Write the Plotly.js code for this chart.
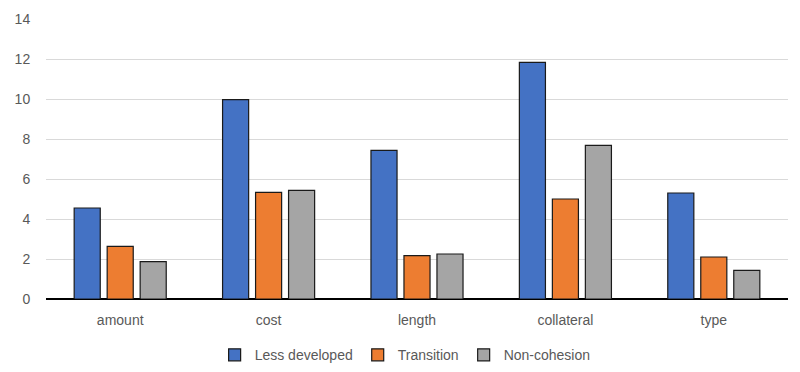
<!DOCTYPE html>
<html>
<head>
<meta charset="utf-8">
<script src="https://cdn.plot.ly/plotly-3.0.1.min.js"></script>
<style>html,body{margin:0;padding:0;background:#fff;}#chart{width:800px;height:372px;}</style>
</head>
<body>
<div id="chart"></div>
<script>
const categories = ["amount", "cost", "length", "collateral", "type"];
const seriesNames = ["Less developed", "Transition", "Non-cohesion"];
const lessDeveloped = [4.55, 9.97, 7.43, 11.83, 5.3];
const transition = [2.63, 5.33, 2.17, 5.0, 2.1];
const nonCohesion = [1.87, 5.43, 2.25, 7.68, 1.43];
const colors = ["#4472C4", "#ED7D31", "#A5A5A5"];
const yTicks = [0, 2, 4, 6, 8, 10, 12, 14];

const values = [lessDeveloped, transition, nonCohesion];
const traces = values.map((v, i) => ({
  type: "bar",
  name: seriesNames[i],
  x: categories,
  y: v,
  marker: {color: colors[i], line: {color: "#1a1a1a", width: 1.2}},
  hoverinfo: "x+y+name"
}));

const layout = {
  width: 800, height: 372,
  margin: {l: 46, r: 12, t: 19, b: 73, autoexpand: false},
  paper_bgcolor: "#fff", plot_bgcolor: "#fff",
  font: {family: "Liberation Sans, Arial, sans-serif", size: 14, color: "#595959"},
  barmode: "group",
  bargap: 0.333,
  bargroupgap: 0.21,
  xaxis: {
    showgrid: false, zeroline: false, showline: false,
    ticks: "outside", ticklen: 8, tickcolor: "rgba(0,0,0,0)",
    tickfont: {size: 14, color: "#595959"}
  },
  yaxis: {
    range: [0, 14], tickvals: yTicks, ticktext: yTicks.map(String),
    showgrid: true, gridcolor: "#d9d9d9", gridwidth: 1,
    zeroline: true, zerolinecolor: "#000", zerolinewidth: 2,
    showline: false, ticks: "outside", ticklen: 12, tickcolor: "rgba(0,0,0,0)",
    tickfont: {size: 14, color: "#595959"}
  },
  showlegend: true,
  legend: {
    orientation: "h", x: 0.484, xanchor: "center",
    yref: "container", y: 0.045, yanchor: "middle",
    font: {size: 14, color: "#595959"}, itemwidth: 30, traceorder: "normal"
  }
};

Plotly.newPlot("chart", traces, layout, {displayModeBar: false, staticPlot: true});
</script>
</body>
</html>
